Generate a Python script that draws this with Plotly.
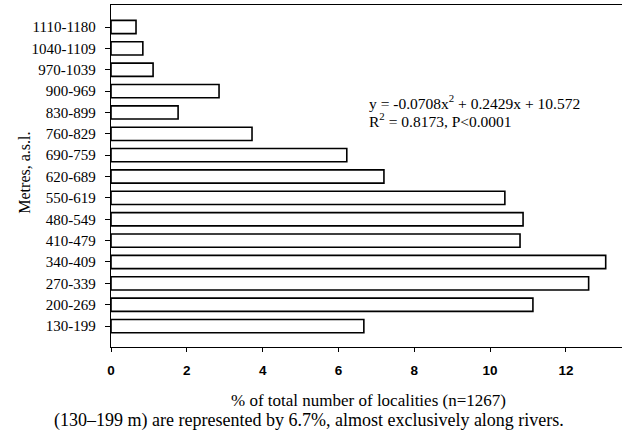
import plotly.graph_objects as go

categories = ["130-199", "200-269", "270-339", "340-409", "410-479", "480-549",
              "550-619", "620-689", "690-759", "760-829", "830-899", "900-969",
              "970-1039", "1040-1109", "1110-1180"]
percent = [6.67, 11.13, 12.6, 13.05, 10.79, 10.87, 10.39, 7.2, 6.22, 3.72,
           1.77, 2.85, 1.11, 0.84, 0.66]
x_ticks = [0, 2, 4, 6, 8, 10, 12]
eq_line1 = "y = -0.0708x<sup>2</sup> + 0.2429x + 10.572"
eq_line2 = "R<sup>2</sup> = 0.8173, P<0.0001"
x_title = "% of total number of localities (n=1267)"
caption = "(130\u2013199 m) are represented by 6.7%, almost exclusively along rivers."
y_title = "Metres, a.s.l."

serif = "Liberation Serif, Times New Roman, serif"
pos = list(range(len(categories)))

fig = go.Figure()
fig.add_trace(go.Bar(
    x=percent, y=pos, orientation="h", width=0.62,
    marker=dict(color="white", line=dict(color="black", width=1.6)),
    hoverinfo="skip",
))

fig.update_layout(
    width=622, height=436,
    margin=dict(l=111, r=0, t=5, b=89),
    paper_bgcolor="white", plot_bgcolor="white",
    showlegend=False,
    xaxis=dict(
        range=[0, 13.48], tickvals=x_ticks, ticktext=[str(v) for v in x_ticks],
        showgrid=False, zeroline=False, showline=True, linecolor="black",
        linewidth=1.3, mirror=True, ticks="outside", ticklen=4, tickwidth=1.3,
        tickcolor="black", ticklabelstandoff=7,
        tickfont=dict(family="Liberation Sans, Arial, sans-serif", size=13.5,
                      color="black", weight="bold"),
    ),
    yaxis=dict(
        range=[-0.98, 15.03], tickvals=pos, ticktext=categories,
        showgrid=False, zeroline=False, showline=True, linecolor="black",
        linewidth=1.3, ticks="outside", ticklen=5, tickwidth=1.3,
        tickcolor="black", ticklabelstandoff=6,
        tickfont=dict(family=serif, size=15, color="black"),
    ),
    annotations=[
        dict(text=eq_line1, x=6.75, y=10.49, xref="x", yref="y",
             xanchor="left", yanchor="middle", showarrow=False,
             font=dict(family=serif, size=15.5, color="black")),
        dict(text=eq_line2, x=6.75, y=9.65, xref="x", yref="y",
             xanchor="left", yanchor="middle", showarrow=False,
             font=dict(family=serif, size=15.5, color="black")),
        dict(text=x_title, x=0.5, y=-0.155, xref="paper", yref="paper",
             xanchor="center", yanchor="middle", showarrow=False, xshift=2,
             font=dict(family=serif, size=17, color="black")),
        dict(text=caption, x=0.5, y=-0.2135, xref="paper", yref="paper",
             xanchor="center", yanchor="middle", showarrow=False, xshift=-58,
             font=dict(family=serif, size=18, color="black")),
        dict(text=y_title, x=-0.17, y=0.51, xref="paper", yref="paper",
             xanchor="center", yanchor="middle", showarrow=False, textangle=-90,
             font=dict(family=serif, size=16, color="black")),
    ],
)

fig.write_html("out.html")
